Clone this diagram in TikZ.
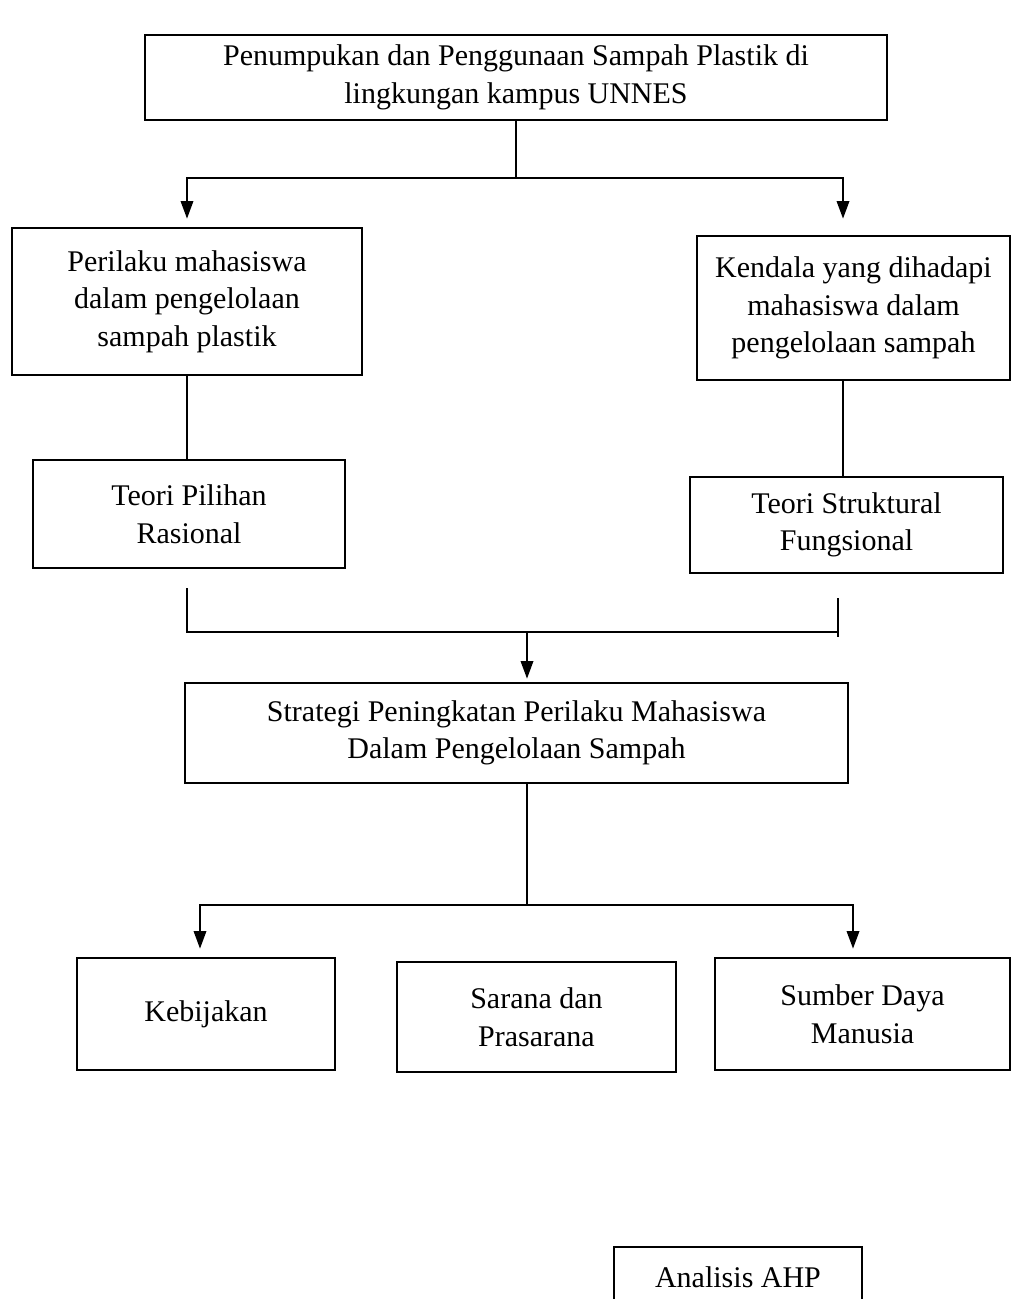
\documentclass[tikz,border=0pt]{standalone}
\usepackage{fontspec}
\setmainfont{Liberation Serif}
\usetikzlibrary{arrows.meta}
\tikzset{
  kotak/.style={draw,line width=1.1pt,align=center,inner sep=2pt,font=\fontsize{12}{15}\selectfont},
  garis/.style={line width=0.7pt},
  panah/.style={garis,-{Triangle[length=7pt,width=5pt]}}
}
\begin{document}
\begin{tikzpicture}[x=0.4pt,y=-0.4pt]
\useasboundingbox (0,0) rectangle (1013,1299);
\clip (0,0) rectangle (1013,1299);
\node[kotak,minimum width=296.8pt,minimum height=34pt] (masalah) at (516,77.5) {Penumpukan dan Penggunaan Sampah Plastik di\\lingkungan kampus UNNES};
\node[kotak,minimum width=140pt,minimum height=58.8pt] (perilaku) at (187,301.5) {Perilaku mahasiswa\\dalam pengelolaan\\sampah plastik};
\node[kotak,minimum width=125.2pt,minimum height=57.6pt] (kendala) at (853.5,308) {Kendala yang dihadapi\\mahasiswa dalam\\pengelolaan sampah};
\node[kotak,minimum width=124.8pt,minimum height=43.2pt] (pilihan) at (189,514) {Teori Pilihan\\Rasional};
\node[kotak,minimum width=125.2pt,minimum height=38.4pt] (struktural) at (846.5,525) {Teori Struktural\\Fungsional};
\node[kotak,minimum width=265.2pt,minimum height=40pt] (strategi) at (516.5,733) {Strategi Peningkatan Perilaku Mahasiswa\\Dalam Pengelolaan Sampah};
\node[kotak,minimum width=103.2pt,minimum height=44.8pt] (kebijakan) at (206,1014) {Kebijakan};
\node[kotak,minimum width=111.6pt,minimum height=44pt] (sarana) at (536.5,1017) {Sarana dan\\Prasarana};
\node[kotak,minimum width=118pt,minimum height=44.8pt] (sdm) at (862.5,1014) {Sumber Daya\\Manusia};
\node[kotak,minimum width=99.2pt,minimum height=24pt] (ahp) at (738,1277) {Analisis AHP};
\coordinate (cabang1) at (516,178);
\coordinate (kiri2) at (187,588);
\coordinate (kanan2) at (838,598);
\coordinate (cabang2) at (527,632);
\coordinate (cabang3) at (527,905);
\draw[garis] (masalah.south) -- (cabang1);
\draw[panah,shorten >=3.2pt] (cabang1) -| (perilaku.north);
\draw[panah,shorten >=6.4pt] (cabang1) -| ([xshift=-4.2pt]kendala.north);
\draw[garis] (perilaku.south) -- (perilaku.south |- pilihan.north);
\draw[garis] ([xshift=-4.2pt]kendala.south) -- ([xshift=-4.2pt]kendala.south |- struktural.north);
\draw[garis] (kiri2) |- (kanan2 |- cabang2);
\draw[garis] (kanan2) -- ++(0,39);
\draw[panah,shorten >=1.2pt] (cabang2) -- (cabang2 |- strategi.north);
\draw[garis] (cabang3 |- strategi.south) -- (cabang3);
\draw[panah,shorten >=3.2pt] (cabang3) -| ([xshift=-2.4pt]kebijakan.north);
\draw[panah,shorten >=3.2pt] (cabang3) -| ([xshift=-3.8pt]sdm.north);
\end{tikzpicture}
\end{document}
